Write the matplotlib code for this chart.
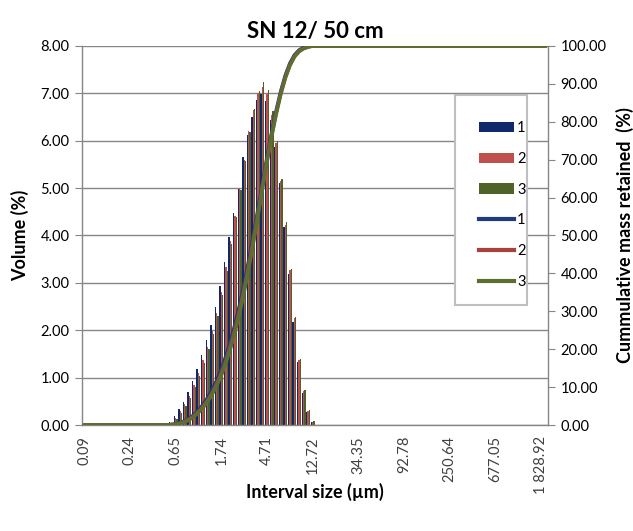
import matplotlib

matplotlib.use("Agg")
import matplotlib.pyplot as plt
import numpy as np
from matplotlib.lines import Line2D
from matplotlib.patches import Patch, Rectangle

plt.rcParams["font.family"] = ["Lato", "DejaVu Sans"]

TITLE = "SN 12/ 50 cm"
N_BINS = 102          # size classes on the category axis
FIRST_BIN = 18        # first class with data in the lists below
TICK_EVERY = 10
tick_labels = ["0.09", "0.24", "0.65", "1.74", "4.71", "12.72", "34.35",
               "92.78", "250.64", "677.05", "1\u00a0828.92"]

# volume (%) per size class, classes 18..51
vol_1 = [0.02, 0.07, 0.19, 0.34, 0.49, 0.69, 0.93, 1.18, 1.47, 1.79, 2.11, 2.50,
         2.93, 3.45, 3.97, 4.47, 4.99, 5.66, 6.13, 6.50, 6.86, 6.98, 6.84, 6.43,
         5.87, 5.10, 4.18, 3.19, 2.17, 1.32, 0.68, 0.28, 0.06, 0.00]
vol_2 = [0.01, 0.05, 0.15, 0.29, 0.44, 0.62, 0.85, 1.09, 1.37, 1.65, 1.98, 2.36,
         2.80, 3.33, 3.88, 4.41, 5.00, 5.60, 6.20, 6.65, 7.00, 7.13, 6.98, 6.55,
         5.95, 5.15, 4.22, 3.28, 2.25, 1.38, 0.72, 0.30, 0.07, 0.00]
vol_3 = [0.01, 0.04, 0.13, 0.26, 0.40, 0.58, 0.80, 1.03, 1.30, 1.60, 1.92, 2.30,
         2.74, 3.26, 3.82, 4.38, 4.96, 5.58, 6.18, 6.68, 7.05, 7.25, 7.08, 6.62,
         6.00, 5.20, 4.28, 3.30, 2.28, 1.40, 0.74, 0.31, 0.08, 0.01]

# cumulative (%) per size class, classes 18..51
cum_1 = [0.0, 0.1, 0.3, 0.6, 1.1, 1.8, 2.7, 3.9, 5.4, 7.2, 9.3, 11.8, 14.7, 18.2,
         22.1, 26.6, 31.6, 37.3, 43.4, 49.9, 56.7, 63.7, 70.6, 77.0, 82.9, 88.0,
         92.2, 95.4, 97.6, 98.9, 99.6, 99.9, 100.0, 100.0]
cum_2 = [0.0, 0.1, 0.2, 0.5, 0.9, 1.6, 2.4, 3.5, 4.9, 6.5, 8.5, 10.9, 13.7, 17.0,
         20.9, 25.3, 30.3, 35.9, 42.1, 48.7, 55.7, 62.9, 69.8, 76.4, 82.3, 87.5,
         91.7, 95.0, 97.3, 98.7, 99.4, 99.8, 100.0, 100.0]
cum_3 = [0.0, 0.1, 0.2, 0.4, 0.8, 1.4, 2.2, 3.3, 4.6, 6.2, 8.1, 10.4, 13.1, 16.4,
         20.2, 24.6, 29.5, 35.1, 41.3, 48.0, 55.0, 62.3, 69.4, 76.0, 82.0, 87.2,
         91.5, 94.8, 97.1, 98.5, 99.3, 99.7, 100.0, 100.0]

series = ["1", "2", "3"]
bar_colors = ["#10296A", "#C0504D", "#4F6228"]
line_colors = ["#1F3C7E", "#A8403D", "#5B7030"]
GRAY = "#868686"


def pad(values, fill):
    # spread a data segment over the full set of size classes
    tail = N_BINS - FIRST_BIN - len(values)
    return np.array([0.0] * FIRST_BIN + values + [fill] * tail)


def main():
    fig = plt.figure(figsize=(6.33, 5.31), dpi=100)
    ax = fig.add_axes([0.1295, 0.1996, 0.7362, 0.7138])
    ax2 = ax.twinx()

    x = np.arange(N_BINS)
    width = 0.29
    for k, vol in enumerate([vol_1, vol_2, vol_3]):
        ax.bar(x + (k - 1) * 0.29, pad(vol, 0.0), width=width,
               color=bar_colors[k], linewidth=0)

    for k, cum in enumerate([cum_1, cum_2, cum_3]):
        ax2.plot(x, pad(cum, 100.0), color=line_colors[k], lw=2.6,
                 solid_capstyle="round")

    ax.set_xlim(-0.5, N_BINS - 0.5)
    ax.set_ylim(0, 8)
    ax2.set_ylim(0, 100)
    ax.set_yticks(np.arange(0, 8.01, 1))
    ax.set_yticklabels([f"{v:.2f}" for v in np.arange(0, 8.01, 1)])
    ax2.set_yticks(np.arange(0, 100.1, 10))
    ax2.set_yticklabels([f"{v:.2f}" for v in np.arange(0, 100.1, 10)])
    ax.set_xticks(x[::TICK_EVERY])
    ax.set_xticklabels(tick_labels, rotation=90, va="top", ha="center")

    ax.set_axisbelow(True)
    ax.yaxis.grid(True, color=GRAY, lw=1)
    for a in (ax, ax2):
        for side in ("top", "left", "right", "bottom"):
            a.spines[side].set_visible(False)
    ax.spines["left"].set_visible(True)
    ax.spines["bottom"].set_visible(True)
    ax2.spines["right"].set_visible(True)
    for sp in (ax.spines["left"], ax.spines["bottom"], ax2.spines["right"]):
        sp.set_color(GRAY)
        sp.set_linewidth(1)

    ax.tick_params(axis="y", length=5, color=GRAY, labelsize=10.5, pad=4)
    ax2.tick_params(axis="y", length=5, color=GRAY, labelsize=10.5, pad=4)
    ax.tick_params(axis="x", length=0, labelsize=10.5, pad=8,
                   labelcolor="#404040")

    ax.set_title(TITLE, fontsize=16, fontweight="bold", pad=6)
    ax.set_ylabel("Volume (%)", fontsize=13, fontweight="bold")
    ax2.set_ylabel("Cummulative mass retained  (%)", fontsize=13,
                   fontweight="bold")
    ax.set_xlabel("Interval size (\u00b5m)", fontsize=13, fontweight="bold")
    ax.yaxis.set_label_coords(-0.133, 0.5)
    ax2.yaxis.set_label_coords(1.165, 0.5)
    ax.xaxis.set_label_coords(0.5, -0.177)
    ax.xaxis.label.set_va("center")
    ax.yaxis.label.set_va("center")
    ax2.yaxis.label.set_va("center")

    # legend box
    box = Rectangle((0.800, 0.317), 0.155, 0.554, transform=ax2.transAxes,
                    facecolor="white", edgecolor="#BFBFBF", lw=1.5, zorder=5)
    ax2.add_patch(box)
    handles = [Patch(facecolor=c, edgecolor="none") for c in bar_colors]
    handles += [Line2D([], [], color=c, lw=3) for c in line_colors]
    leg = ax2.legend(handles, series + series, loc="upper left",
                     bbox_to_anchor=(0.852, 0.802), frameon=False,
                     fontsize=10.5, handlelength=2.4, handleheight=0.7,
                     handletextpad=0.2, labelspacing=1.15, borderpad=0,
                     borderaxespad=0)
    leg.set_zorder(6)

    fig.savefig("out.png", dpi=100)
    plt.close(fig)


if __name__ == "__main__":
    main()
